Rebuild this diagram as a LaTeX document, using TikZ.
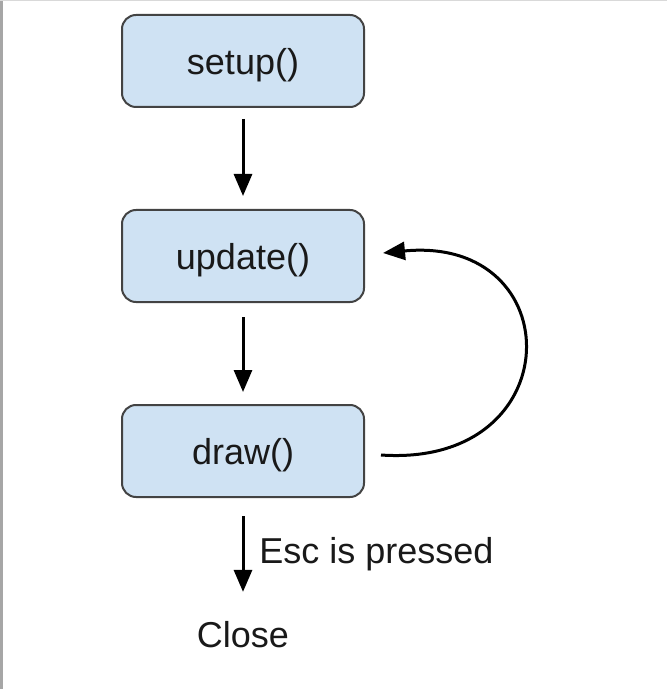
\documentclass[tikz,border=0pt]{standalone}
\usepackage{fontspec}
\setmainfont{Liberation Sans}
\usetikzlibrary{arrows.meta,positioning,calc}
\definecolor{boxblue}{HTML}{CFE2F3}
\definecolor{boxline}{HTML}{434343}

\begin{document}
\begin{tikzpicture}[x=0.5pt,y=0.5pt,node distance=50.5pt and 10pt]

\tikzset{bluenode/.style={font=\fontsize{18}{21}\selectfont,text=black!90,fill=boxblue,draw=boxline,line width=1pt,rounded corners=7pt,minimum width=121pt,minimum height=46pt,inner sep=0pt,text depth=0pt},
plaintext/.style={font=\fontsize{18}{21}\selectfont,text=black!90,inner sep=0pt},
flowarrow/.style={line width=1.5pt,-{Triangle[length=11pt,width=9pt]}}}

\useasboundingbox (0,0) rectangle (667,-689);

% page edge
\draw[black!35,line width=1.5pt] (1.5,0) -- (1.5,-689);
\draw[black!15,line width=0.5pt] (0,-0.5) -- (667,-0.5);

% loop nodes
\node (setupbox) [bluenode] at (243,-61) {setup()};
\node (updatebox) [below=of setupbox,bluenode] {update()};
\node (drawbox) [below=of updatebox,bluenode] {draw()};
\node (close) [plaintext] at (243,-634.5) {Close};
\node (esc) [plaintext,anchor=base west] at (259,-563) {Esc is pressed};

% Edges
\draw[flowarrow,shorten <=5.5pt,shorten >=6.5pt] (setupbox) -- (updatebox);
\draw[flowarrow,shorten <=7pt,shorten >=6pt] (updatebox) -- (drawbox);
\draw[flowarrow,shorten <=9pt,shorten >=14.5pt] (drawbox) -- (close);

% loop back
\draw[flowarrow] ([shift={(8pt,-2pt)}]drawbox.east) .. controls +(190,-13) and +(188,18) .. ([shift={(9pt,1.5pt)}]updatebox.east);

\end{tikzpicture}
\end{document}
